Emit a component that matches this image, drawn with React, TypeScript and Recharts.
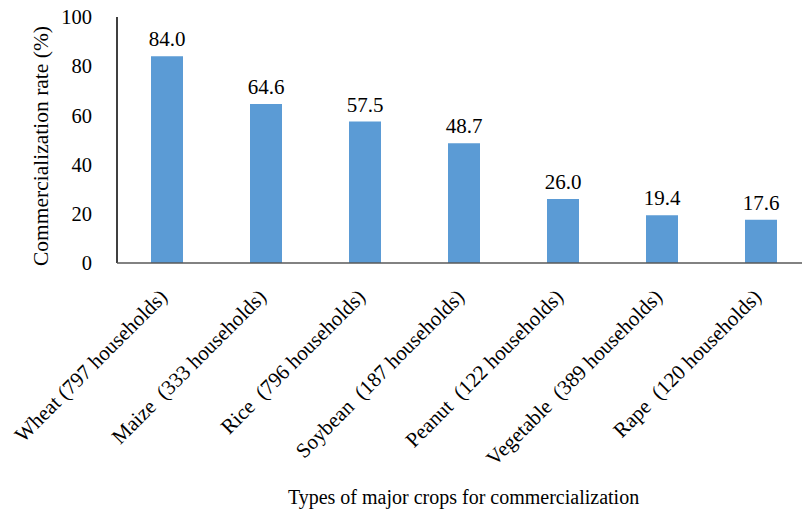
import React from 'react';
import { BarChart, Bar, XAxis, YAxis, LabelList, Label } from 'recharts';

const categories = [
  'Wheat (797 households)',
  'Maize  (333 households)',
  'Rice  (796 households)',
  'Soybean  (187 households)',
  'Peanut  (122 households)',
  'Vegetable  (389 households)',
  'Rape  (120 households)',
];
const rates = [84.0, 64.6, 57.5, 48.7, 26.0, 19.4, 17.6];
const yTicks = [0, 20, 40, 60, 80, 100];

const data = categories.map((name, i) => ({ name, rate: rates[i] }));

const FONT = '"Liberation Serif", "Times New Roman", serif';
const textStyle: React.CSSProperties = { fontFamily: FONT, fontSize: 20, fill: '#000' };

const CategoryTick = (props: any) => {
  const { x, y, payload } = props;
  const ax = x + 2;
  const ay = y + 33;
  return (
    <text
      x={ax}
      y={ay}
      transform={`rotate(-45, ${ax}, ${ay})`}
      textAnchor="end"
      style={{ ...textStyle, fontSize: 21, whiteSpace: 'pre' }}
    >
      {payload.value}
    </text>
  );
};

const ValueLabel = (props: any) => {
  const { x, y, width, value } = props;
  return (
    <text x={x + width / 2} y={y - 10} textAnchor="middle" style={{ ...textStyle, fontSize: 21 }}>
      {Number(value).toFixed(1)}
    </text>
  );
};

export default function App() {
  return (
    <div style={{ position: 'fixed', left: 0, top: 0, width: 802, height: 514, overflow: 'hidden', background: '#fff', fontFamily: FONT }}>
      <BarChart
        width={820}
        height={514}
        data={data}
        margin={{ top: 17, right: 10, left: 0, bottom: 0 }}
        style={{ fontFamily: FONT }}
      >
        <YAxis
          domain={[0, 100]}
          ticks={yTicks}
          width={117}
          tickLine={false}
          tickSize={0}
          tickMargin={25}
          axisLine={{ stroke: '#000', strokeWidth: 1.5 }}
          tick={{ style: { ...textStyle, fontSize: 20.5 }, fontFamily: FONT, fontSize: 20.5, fill: '#000' }}
        >
          <Label
            content={() => (
              <text
                x={0}
                y={0}
                transform="translate(48, 146) rotate(-90)"
                textAnchor="middle"
                style={{ ...textStyle, fontSize: 21.5 }}
              >
                Commercialization rate (%)
              </text>
            )}
          />
        </YAxis>
        <XAxis
          dataKey="name"
          height={251}
          interval={0}
          tickLine={false}
          tickSize={0}
          axisLine={{ stroke: '#595959', strokeWidth: 1.5 }}
          tick={<CategoryTick />}
        >
          <Label
            content={(p: any) => (
              <text
                x={p.viewBox.x + p.viewBox.width / 2}
                y={504}
                textAnchor="middle"
                style={textStyle}
              >
                Types of major crops for commercialization
              </text>
            )}
          />
        </XAxis>
        <Bar dataKey="rate" fill="#5B9BD5" barSize={32} isAnimationActive={false}>
          <LabelList dataKey="rate" content={<ValueLabel />} />
        </Bar>
      </BarChart>
    </div>
  );
}
